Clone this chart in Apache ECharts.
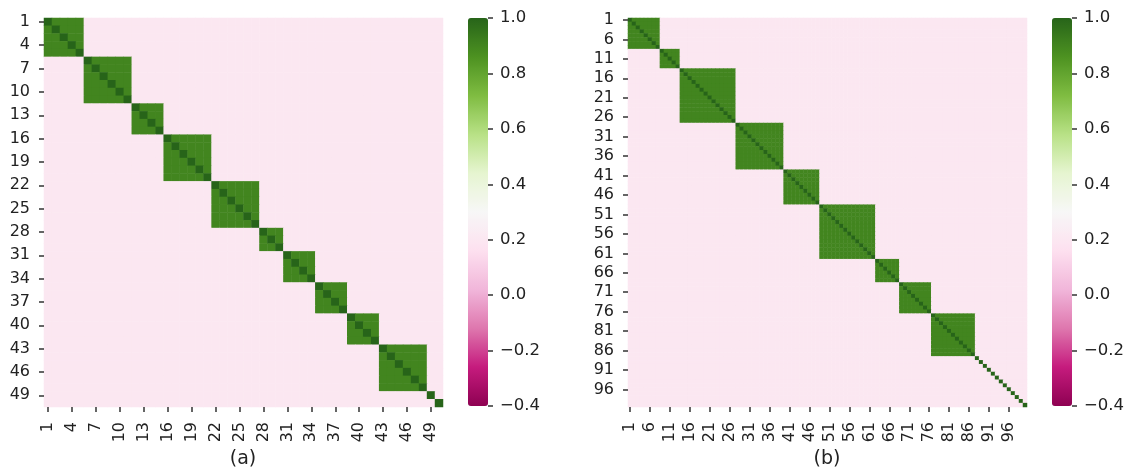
<!DOCTYPE html>
<html>
<head>
<meta charset="utf-8">
<script src="https://cdn.jsdelivr.net/npm/echarts@6/dist/echarts.min.js"></script>
<style>
  html, body { margin: 0; padding: 0; background: #fff; }
  #tu { width: 1129px; height: 470px; }
</style>
</head>
<body>
<div id="tu"></div>
<script>
var blocksA = [5, 6, 4, 6, 6, 3, 4, 4, 4, 6, 1, 1];
var blocksB = [8, 5, 14, 12, 9, 14, 6, 8, 11, 1, 1, 1, 1, 1, 1, 1, 1, 1, 1, 1, 1, 1];
// cell values: outside blocks, inside blocks, diagonal
var offValue = 0.2;
var blockValue = 0.9;
var diagValue = 1.0;
// colour scale limits and ticks
var scaleMin = -0.4;
var scaleMax = 1.0;
var piyg = ['#8e0152', '#c51b7d', '#de77ae', '#f1b6da', '#fde0ef', '#f7f7f7',
            '#e6f5d0', '#b8e186', '#7fbc41', '#4d9221', '#276419'];

function labels(n) {
    var out = [];
    for (var i = 1; i <= n; i++) out.push(String(i));
    return out;
}
var catsA = labels(50);
var catsB = labels(100);

function matrix(blocks) {
    var group = [];
    blocks.forEach(function(size, g) {
        for (var k = 0; k < size; k++) group.push(g);
    });
    var n = group.length, data = [];
    for (var i = 0; i < n; i++) {
        for (var j = 0; j < n; j++) {
            var v = offValue;
            if (i === j) v = diagValue;
            else if (group[i] === group[j]) v = blockValue;
            data.push([j, i, v]);
        }
    }
    return data;
}

var font = 'DejaVu Sans';
var txt = '#222';
var tickStyle = { color: '#333', width: 1.5 };
var noLine = { show: true, onZero: false, lineStyle: { color: 'rgba(0,0,0,0)' } };

function catX(idx, cats, step) {
    return {
        type: 'category', gridIndex: idx, data: cats, position: 'bottom', z: 10,
        axisLine: noLine,
        axisTick: { show: true, alignWithLabel: true, length: 5, lineStyle: tickStyle },
        axisLabel: { interval: step, rotate: 90, fontFamily: font, fontSize: 16, color: txt,
                     margin: 6, padding: [0, 9, 0, 0] },
        splitLine: { show: false }
    };
}
function catY(idx, cats, step) {
    return {
        type: 'category', gridIndex: idx, data: cats, inverse: true, z: 10,
        axisLine: noLine,
        axisTick: { show: true, alignWithLabel: true, length: 5, lineStyle: tickStyle },
        axisLabel: { interval: step, fontFamily: font, fontSize: 16, color: txt,
                     margin: 6, padding: [0, 8, 0, 0] },
        splitLine: { show: false }
    };
}
function barAxis(idx) {
    return {
        type: 'value', gridIndex: idx, position: 'right', min: scaleMin, max: scaleMax, interval: 0.2,
        axisLine: noLine,
        axisTick: { show: true, length: 5, lineStyle: tickStyle },
        axisLabel: {
            fontFamily: font, fontSize: 16.5, color: txt, margin: 12,
            formatter: function(v) {
                if (Math.abs(v) < 1e-9) return '0.0';
                return v < 0 ? '\u2212' + (-v).toFixed(1) : v.toFixed(1);
            }
        },
        splitLine: { show: false }
    };
}
function hiddenX(idx) {
    return { type: 'value', gridIndex: idx, show: false, min: 0, max: 1 };
}

var myChart = echarts.init(document.getElementById('tu'));

var option = {
    backgroundColor: '#fff',
    animation: false,
    title: [
        { text: '(a)', left: 243, top: 450, textAlign: 'center', padding: 0,
          textStyle: { fontFamily: font, fontSize: 19, fontWeight: 'normal', color: txt } },
        { text: '(b)', left: 827, top: 450, textAlign: 'center', padding: 0,
          textStyle: { fontFamily: font, fontSize: 19, fontWeight: 'normal', color: txt } }
    ],
    grid: [
        { left: 44, top: 18, width: 399, height: 389 },
        { left: 628, top: 18, width: 399, height: 389 },
        { left: 468, top: 18, width: 20, height: 388 },
        { left: 1052, top: 18, width: 20, height: 388 }
    ],
    xAxis: [catX(0, catsA, 2), catX(1, catsB, 4), hiddenX(2), hiddenX(3)],
    yAxis: [catY(0, catsA, 2), catY(1, catsB, 4), barAxis(2), barAxis(3)],
    visualMap: [
        { type: 'continuous', seriesIndex: 0, min: scaleMin, max: scaleMax, calculable: false,
          orient: 'vertical', left: 468, top: 18, itemWidth: 20, itemHeight: 388, padding: 0,
          text: null, showLabel: false, hoverLink: false, inRange: { color: piyg } },
        { type: 'continuous', seriesIndex: 1, min: scaleMin, max: scaleMax, calculable: false,
          orient: 'vertical', left: 1052, top: 18, itemWidth: 20, itemHeight: 388, padding: 0,
          text: null, showLabel: false, hoverLink: false, inRange: { color: piyg } }
    ],
    series: [
        { type: 'heatmap', xAxisIndex: 0, yAxisIndex: 0, data: matrix(blocksA), progressive: 0 },
        { type: 'heatmap', xAxisIndex: 1, yAxisIndex: 1, data: matrix(blocksB), progressive: 0 }
    ]
};

myChart.setOption(option);
</script>
</body>
</html>
